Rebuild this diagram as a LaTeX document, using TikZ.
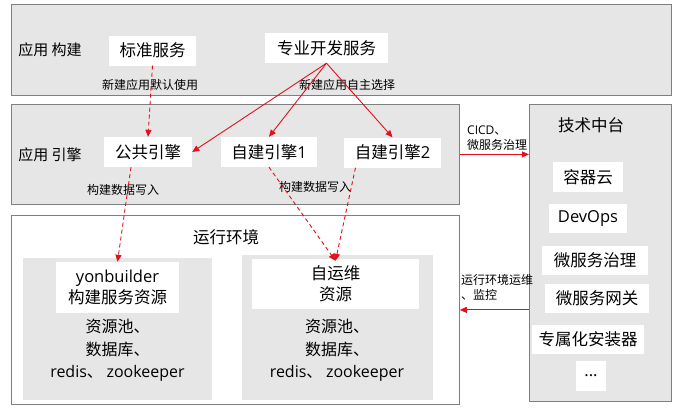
\documentclass[tikz,border=0pt]{standalone}
\usepackage{fontspec}
\setmainfont{Noto Sans CJK SC}
\newfontfamily\latn{Open Sans}
\usetikzlibrary{arrows.meta}
\definecolor{panel}{HTML}{E7E6E6}
\definecolor{edgegray}{HTML}{7F7F7F}
\definecolor{arrred}{HTML}{E3101B}
\begin{document}
\begin{tikzpicture}[x=1pt,y=-1pt,
  region/.style={draw=edgegray, line width=0.8pt, fill=panel, anchor=north west, inner sep=0pt},
  subpanel/.style={fill=panel, anchor=north west, inner sep=0pt},
  wbox/.style={fill=white, inner sep=0pt, minimum height=30pt, font=\fontsize{16.5}{21}\selectfont, align=center},
  big/.style={inner sep=0pt, font=\fontsize{16.5}{21}\selectfont, align=center},
  sect/.style={inner sep=0pt, font=\fontsize{15}{18}\selectfont},
  lab/.style={inner sep=0pt, font=\fontsize{12}{15}\selectfont},
  arrowln/.style={draw=arrred, line width=0.9pt, -{Triangle[length=7pt,width=6pt]}},
  dashln/.style={arrowln, dash pattern=on 4pt off 3pt}]
\useasboundingbox (0,0) rectangle (673,408);

% regions
\node[region, minimum width=660pt, minimum height=91pt] (build) at (11,4) {};
\node[region, minimum width=448pt, minimum height=100pt] (engine) at (11,104) {};
\node[region, minimum width=142pt, minimum height=297pt] (tech) at (529,104) {};
\node[region, fill=white, minimum width=448pt, minimum height=189pt] (runtime) at (11,215) {};
\node[subpanel, minimum width=189pt, minimum height=142pt] (lpanel) at (23,258) {};
\node[subpanel, minimum width=191pt, minimum height=145pt] (rpanel) at (242,255) {};

% section labels
\node[sect] (lbuild) at (50,50) {应用 构建};
\node[sect] (lengine) at (50,155) {应用 引擎};
\node[big] (lruntime) at (226,237) {运行环境};
\node[big] (ltech) at (591,125) {技术中台};

% build layer
\node[wbox, minimum width=87pt] (bz) at (152.5,50.5) {标准服务};
\node[wbox, minimum width=123pt] (zy) at (326.5,48) {专业开发服务};

% engine layer
\node[wbox, minimum width=88pt] (gg) at (148,152) {公共引擎};
\node[wbox, minimum width=96pt] (z1) at (269,152) {自建引擎{\latn 1}};
\node[wbox, minimum width=97pt] (z2) at (392.5,152.5) {自建引擎{\latn 2}};

% tech platform items
\node[wbox, minimum width=70pt] (rqy) at (588,177) {容器云};
\node[wbox, minimum width=78pt, minimum height=29pt] (devops) at (588,218.5) {{\latn DevOps}};
\node[wbox, minimum width=106pt, minimum height=29pt] (wfzl) at (595,260.5) {微服务治理};
\node[wbox, minimum width=104pt, minimum height=29pt] (wfwg) at (597,298.5) {微服务网关};
\node[wbox, minimum width=112pt, minimum height=29pt] (zsh) at (588,339.5) {专属化安装器};
\node[wbox, minimum width=30pt] (more) at (591,376) {{\latn ...}};

% runtime resources
\node[wbox, minimum width=123pt, minimum height=51pt] (yb) at (117.5,287.5) {{\latn yonbuilder}\\构建服务资源};
\node[wbox, minimum width=167pt, minimum height=50pt] (zyw) at (335.5,284) {自运维\\资源};
\node[big, font=\fontsize{16}{22.5}\selectfont] (lres) at (117.5,350.5) {资源池、\\数据库、\\{\latn redis}、 {\latn zookeeper}};
\node[big, font=\fontsize{16}{22.5}\selectfont] (rres) at (337,350.5) {资源池、\\数据库、\\{\latn redis}、 {\latn zookeeper}};

% connector labels
\node[lab] (l1) at (150,85) {新建应用默认使用};
\node[lab] (l2) at (347,85) {新建应用自主选择};
\node[lab] (l3) at (123,190) {构建数据写入};
\node[lab] (l4) at (315,187) {构建数据写入};
\node[lab, align=left, anchor=south west] (l5) at (467,151) {{\latn CICD}、\\微服务治理};
\node[lab, align=left, anchor=north west] (l6) at (461,274) {运行环境运维\\、监控};

% connectors
\draw[dashln] (bz.south) -- (gg.north);
\draw[arrowln] (zy.south) -- (gg.east);
\draw[arrowln] (zy.south) -- (z1.north);
\draw[arrowln] (zy.south) -- (z2.north);
\draw[dashln] ([xshift=-17pt]gg.south) -- (yb.north);
\draw[dashln] (z1.south) -- ([yshift=-2pt]zyw.north);
\draw[dashln] ([xshift=-37pt]z2.south) -- ([yshift=-2pt]zyw.north);
\draw[arrowln] (engine.east) -- (tech.west |- engine.east);
\draw[arrowln] (tech.west |- runtime.east) -- (runtime.east);
\end{tikzpicture}
\end{document}
